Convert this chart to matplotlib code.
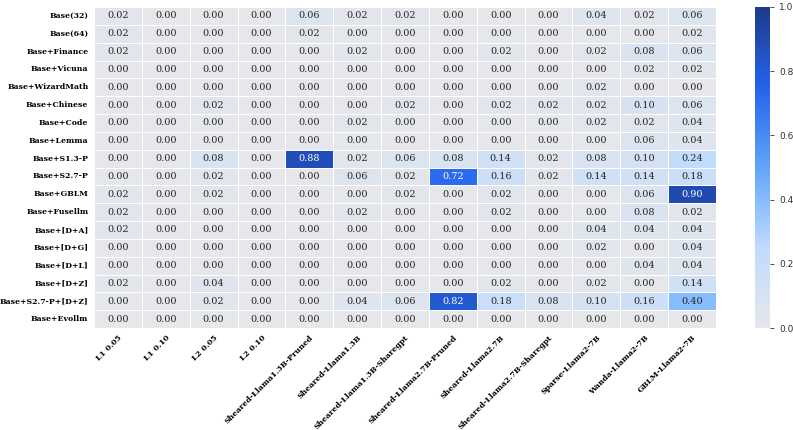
import numpy as np
import matplotlib
matplotlib.use("Agg")
import matplotlib.pyplot as plt
from matplotlib.colors import LinearSegmentedColormap
import seaborn as sns

# modelos avaliados (colunas) e modelos base (linhas)
modelos = ["L1 0.05", "L1 0.10", "L2 0.05", "L2 0.10",
           "Sheared-Llama1.3B-Pruned", "Sheared-Llama1.3B",
           "Sheared-Llama1.3B-Sharegpt", "Sheared-Llama2.7B-Pruned",
           "Sheared-Llama2.7B", "Sheared-Llama2.7B-Sharegpt",
           "Sparse-Llama2-7B", "Wanda-Llama2-7B", "GBLM-Llama2-7B"]
bases = ["Base(32)", "Base(64)", "Base+Finance", "Base+Vicuna",
         "Base+WizardMath", "Base+Chinese", "Base+Code", "Base+Lemma",
         "Base+S1.3-P", "Base+S2.7-P", "Base+GBLM", "Base+Fusellm",
         "Base+[D+A]", "Base+[D+G]", "Base+[D+L]", "Base+[D+Z]",
         "Base+S2.7-P+[D+Z]", "Base+Evollm"]

valores = [
    [0.02, 0.00, 0.00, 0.00, 0.06, 0.02, 0.02, 0.00, 0.00, 0.00, 0.04, 0.02, 0.06],
    [0.02, 0.00, 0.00, 0.00, 0.02, 0.00, 0.00, 0.00, 0.00, 0.00, 0.00, 0.00, 0.02],
    [0.02, 0.00, 0.00, 0.00, 0.00, 0.02, 0.00, 0.00, 0.02, 0.00, 0.02, 0.08, 0.06],
    [0.00, 0.00, 0.00, 0.00, 0.00, 0.00, 0.00, 0.00, 0.00, 0.00, 0.00, 0.02, 0.02],
    [0.00, 0.00, 0.00, 0.00, 0.00, 0.00, 0.00, 0.00, 0.00, 0.00, 0.02, 0.00, 0.00],
    [0.00, 0.00, 0.02, 0.00, 0.00, 0.00, 0.02, 0.00, 0.02, 0.02, 0.02, 0.10, 0.06],
    [0.00, 0.00, 0.00, 0.00, 0.00, 0.02, 0.00, 0.00, 0.00, 0.00, 0.02, 0.02, 0.04],
    [0.00, 0.00, 0.00, 0.00, 0.00, 0.00, 0.00, 0.00, 0.00, 0.00, 0.00, 0.06, 0.04],
    [0.00, 0.00, 0.08, 0.00, 0.88, 0.02, 0.06, 0.08, 0.14, 0.02, 0.08, 0.10, 0.24],
    [0.00, 0.00, 0.02, 0.00, 0.00, 0.06, 0.02, 0.72, 0.16, 0.02, 0.14, 0.14, 0.18],
    [0.02, 0.00, 0.02, 0.00, 0.00, 0.00, 0.02, 0.00, 0.02, 0.00, 0.00, 0.06, 0.90],
    [0.02, 0.00, 0.00, 0.00, 0.00, 0.02, 0.00, 0.00, 0.02, 0.00, 0.00, 0.08, 0.02],
    [0.02, 0.00, 0.00, 0.00, 0.00, 0.00, 0.00, 0.00, 0.00, 0.00, 0.04, 0.04, 0.04],
    [0.00, 0.00, 0.00, 0.00, 0.00, 0.00, 0.00, 0.00, 0.00, 0.00, 0.02, 0.00, 0.04],
    [0.00, 0.00, 0.00, 0.00, 0.00, 0.00, 0.00, 0.00, 0.00, 0.00, 0.00, 0.04, 0.04],
    [0.02, 0.00, 0.04, 0.00, 0.00, 0.00, 0.00, 0.00, 0.02, 0.00, 0.02, 0.00, 0.14],
    [0.00, 0.00, 0.02, 0.00, 0.00, 0.04, 0.06, 0.82, 0.18, 0.08, 0.10, 0.16, 0.40],
    [0.00, 0.00, 0.00, 0.00, 0.00, 0.00, 0.00, 0.00, 0.00, 0.00, 0.00, 0.00, 0.00],
]

# mapa de cores: cinza claro -> azul -> azul escuro
cores = ["#e5e7eb", "#bfdbfe", "#60a5fa", "#2563eb", "#1e3a8a"]
cmap = LinearSegmentedColormap.from_list("cinza_azul", cores)

fig = plt.figure(figsize=(7.93, 4.30), dpi=100)
ax = fig.add_axes([94 / 793, 1 - 328 / 430, 622 / 793, 321 / 430])
cax = fig.add_axes([755 / 793, 1 - 328 / 430, 15 / 793, 321 / 430])

sns.heatmap(np.array(valores), ax=ax, cbar_ax=cax, cmap=cmap, vmin=0, vmax=1,
            annot=True, fmt=".2f", linewidths=0.5, linecolor="white",
            annot_kws={"fontsize": 7, "family": "DejaVu Serif"},
            xticklabels=modelos, yticklabels=bases)

# rótulos em negrito, serifados
ax.set_xticklabels(modelos, rotation=45, ha="right", rotation_mode="anchor",
                   fontsize=5.6, fontweight="bold", family="DejaVu Serif")
ax.set_yticklabels(bases, rotation=0, fontsize=5.6, fontweight="bold",
                   family="DejaVu Serif")
ax.tick_params(length=0, pad=4)

cax.tick_params(labelsize=6.5, length=3, width=0.6, colors="#333333")
cax.set_yticks([0.0, 0.2, 0.4, 0.6, 0.8, 1.0])
for s in cax.spines.values():
    s.set_visible(False)

fig.savefig("out.png", dpi=100)
